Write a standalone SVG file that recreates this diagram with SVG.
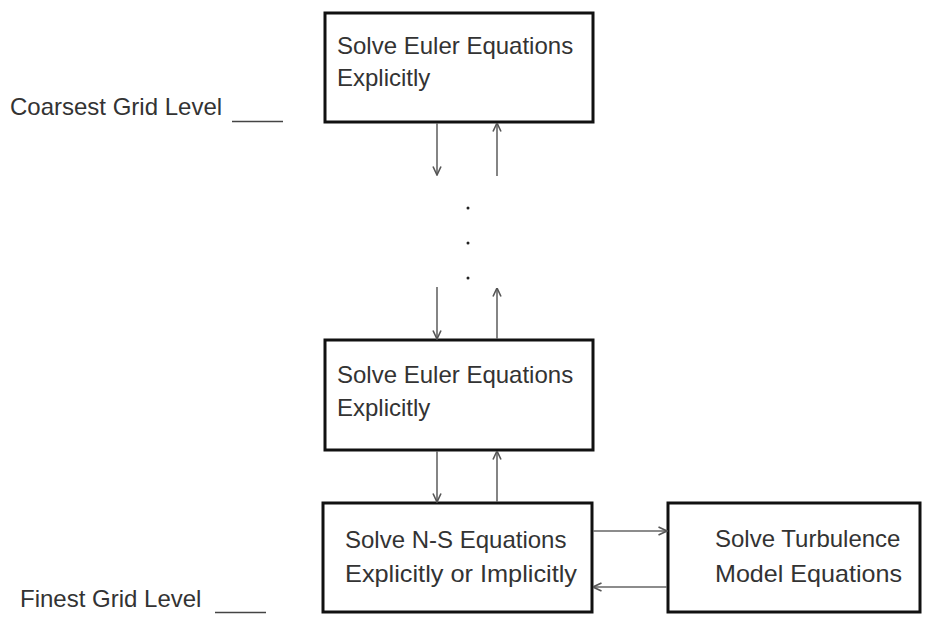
<svg xmlns="http://www.w3.org/2000/svg" width="925" height="617" viewBox="0 0 925 617">
<style>
.box{fill:#fff;stroke:#111;stroke-width:3}
.t{font-family:"Liberation Sans",Arial,sans-serif;font-size:24px;fill:#333}
.c{stroke:#666;stroke-width:1.6;fill:none}
.u{stroke:#444;stroke-width:1.6}
</style>
<defs>
<marker id="ah" viewBox="0 0 10 10" refX="9.5" refY="5" markerWidth="10" markerHeight="10" markerUnits="userSpaceOnUse" orient="auto">
<path d="M1,1 L9.5,5 L1,9" fill="none" stroke="#555" stroke-width="1.6"/>
</marker>
</defs>
<rect width="925" height="617" fill="#fff"/>
<g id="label-coarsest">
<text class="t" x="10" y="115">Coarsest Grid Level</text>
<line class="u" x1="232" y1="121.5" x2="283" y2="121.5"/>
</g>
<g id="label-finest">
<text class="t" x="20" y="607">Finest Grid Level</text>
<line class="u" x1="215" y1="612.5" x2="266" y2="612.5"/>
</g>
<g id="euler-coarse">
<rect class="box" x="325" y="13" width="268" height="109"/>
<text class="t" x="337" y="54">Solve Euler Equations</text>
<text class="t" x="337" y="86">Explicitly</text>
</g>
<g id="euler-fine">
<rect class="box" x="325" y="340" width="268" height="110"/>
<text class="t" x="337" y="383">Solve Euler Equations</text>
<text class="t" x="337" y="416">Explicitly</text>
</g>
<g id="ns">
<rect class="box" x="323" y="503" width="269" height="109"/>
<text class="t" x="345" y="548">Solve N-S Equations</text>
<text class="t" x="345" y="582" textLength="232" lengthAdjust="spacingAndGlyphs">Explicitly or Implicitly</text>
</g>
<g id="turbulence">
<rect class="box" x="668" y="503" width="252" height="109"/>
<text class="t" x="715" y="547">Solve Turbulence</text>
<text class="t" x="715" y="582" textLength="187" lengthAdjust="spacingAndGlyphs">Model Equations</text>
</g>
<g id="dots" fill="#222">
<circle cx="468" cy="208" r="1.5"/>
<circle cx="468" cy="243" r="1.5"/>
<circle cx="468" cy="278" r="1.5"/>
</g>
<g id="connectors">
<line class="c" x1="437" y1="123" x2="437" y2="175" marker-end="url(#ah)"/>
<line class="c" x1="497" y1="176" x2="497" y2="123" marker-end="url(#ah)"/>
<line class="c" x1="437" y1="287" x2="437" y2="339" marker-end="url(#ah)"/>
<line class="c" x1="497" y1="339" x2="497" y2="288" marker-end="url(#ah)"/>
<line class="c" x1="437" y1="451" x2="437" y2="502" marker-end="url(#ah)"/>
<line class="c" x1="497" y1="502" x2="497" y2="451" marker-end="url(#ah)"/>
<line class="c" x1="593" y1="531" x2="667" y2="531" marker-end="url(#ah)"/>
<line class="c" x1="667" y1="587" x2="593" y2="587" marker-end="url(#ah)"/>
</g>
</svg>
